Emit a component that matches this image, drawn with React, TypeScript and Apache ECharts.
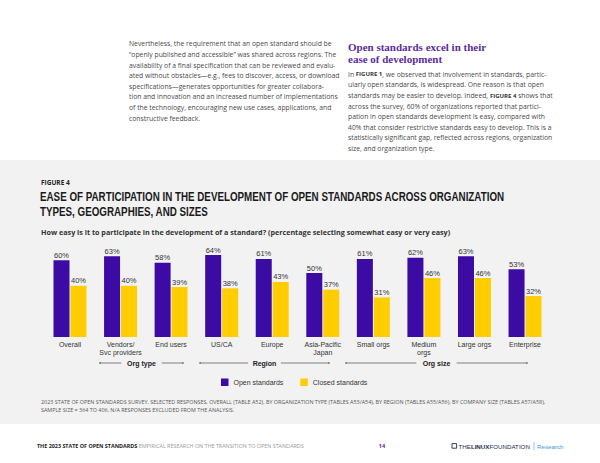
import React, { useEffect, useRef } from "react";
import * as echarts from "echarts";

const categories = [
  "Overall",
  "Vendors/\nSvc providers",
  "End users",
  "US/CA",
  "Europe",
  "Asia-Pacific\nJapan",
  "Small orgs",
  "Medium\norgs",
  "Large orgs",
  "Enterprise",
];
const openValues = [60, 63, 58, 64, 61, 50, 61, 62, 63, 53];
const closedValues = [40, 40, 39, 38, 43, 37, 31, 46, 46, 32];
const seriesNames = ["Open standards", "Closed standards"];
const groupNames = ["Org type", "Region", "Org size"];

const leftParagraph = [
  "Nevertheless, the requirement that an open standard should be",
  "\u201copenly published and accessible\u201d was shared across regions. The",
  "availability of a final specification that can be reviewed and evalu-",
  "ated without obstacles\u2014e.g., fees to discover, access, or download",
  "specifications\u2014generates opportunities for greater collabora-",
  "tion and innovation and an increased number of implementations",
  "of the technology, encouraging new use cases, applications, and",
  "constructive feedback.",
];
const rightParagraph = [
  "In {b|FIGURE 1}, we observed that involvement in standards, partic-",
  "ularly open standards, is widespread. One reason is that open",
  "standards may be easier to develop. Indeed, {b|FIGURE 4} shows that",
  "across the survey, 60% of organizations reported that partici-",
  "pation in open standards development is easy, compared with",
  "40% that consider restrictive standards easy to develop. This is a",
  "statistically significant gap, reflected across regions, organization",
  "size, and organization type.",
];

const PURPLE = "#3b0ba3";
const YELLOW = "#ffcd00";
const BODY = "Open Sans";
const CHARTF = "Liberation Sans";

export default function App() {
  const ref = useRef<HTMLDivElement>(null);
  useEffect(() => {
    if (!ref.current) return;
    const chart = echarts.init(ref.current, undefined, { renderer: "svg" });

    const txt = (
      x: number,
      y: number,
      text: string,
      style: any,
      extra: any = {}
    ) => ({
      type: "text",
      x,
      y,
      z: 10,
      style: {
        text,
        fontFamily: BODY,
        fontSize: 7,
        fill: "#444",
        textAlign: "left",
        textVerticalAlign: "middle",
        ...style,
      },
      ...extra,
    });

    const groupLine = (x1: number, x2: number, label: string, y: number) => {
      const mid = (x1 + x2) / 2;
      const half = label.length * 1.9 + 5;
      return [
        { type: "line", z: 10, shape: { x1, y1: y, x2: mid - half, y2: y }, style: { stroke: "#333", lineWidth: 0.6 } },
        { type: "line", z: 10, shape: { x1: mid + half, y1: y, x2, y2: y }, style: { stroke: "#333", lineWidth: 0.6 } },
        { type: "line", z: 10, shape: { x1, y1: y - 1, x2: x1, y2: y + 1 }, style: { stroke: "#333", lineWidth: 0.8 } },
        { type: "line", z: 10, shape: { x1: x2, y1: y - 1, x2, y2: y + 1 }, style: { stroke: "#333", lineWidth: 0.8 } },
        txt(mid, y, label, { fontFamily: CHARTF, fontWeight: "bold", fontSize: 7, fill: "#222", textAlign: "center" }),
      ];
    };

    const graphic: any[] = [
      { type: "rect", z: -100, shape: { x: 0, y: 160, width: 600, height: 264 }, style: { fill: "#f2f2f2" } },
      // left paragraph
      txt(129, 38.7, leftParagraph.join("\n"), {
        fontSize: 6.8,
        lineHeight: 10.6,
        textVerticalAlign: "top",
        fill: "#4a4a4a",
      }),
      // right heading
      txt(348, 40.3, "Open standards excel in their\nease of development", {
        fontFamily: "Liberation Serif",
        fontWeight: "bold",
        fontSize: 11,
        lineHeight: 12.7,
        textVerticalAlign: "top",
        fill: "#5b2ca3",
      }),
      // right paragraph
      txt(348, 69, rightParagraph.join("\n"), {
        fontSize: 6.8,
        lineHeight: 10.6,
        textVerticalAlign: "top",
        fill: "#4a4a4a",
        rich: {
          b: { fontFamily: BODY, fontSize: 6, fontWeight: "bold", fill: "#333", lineHeight: 10.6 },
        },
      }),
      // figure label & title
      txt(41, 182.3, "FIGURE 4", { fontWeight: "bold", fontSize: 6.5, fill: "#222" }),
      txt(
        40,
        189,
        "EASE OF PARTICIPATION IN THE DEVELOPMENT OF OPEN STANDARDS ACROSS ORGANIZATION\nTYPES, GEOGRAPHIES, AND SIZES",
        {
          fontFamily: CHARTF,
          fontWeight: "bold",
          fontSize: 12.5,
          lineHeight: 15,
          textVerticalAlign: "top",
          fill: "#1a1a1a",
        },
        { scaleX: 0.785 }
      ),
      txt(
        41,
        231.7,
        "How easy is it to participate in the development of a standard? (percentage selecting somewhat easy or very easy)",
        { fontWeight: "bold", fontSize: 7.2, fill: "#333" }
      ),
      ...groupLine(100, 183, groupNames[0], 363),
      ...groupLine(200, 329, groupNames[1], 363),
      ...groupLine(346, 527, groupNames[2], 363),
      // footnote
      txt(
        41,
        397.5,
        "2023 STATE OF OPEN STANDARDS SURVEY, SELECTED RESPONSES, OVERALL (TABLE A52), BY ORGANIZATION TYPE (TABLES A53/A54), BY REGION (TABLES A55/A56), BY COMPANY SIZE (TABLES A57/A58),\nSAMPLE SIZE = 364 TO 406, N/A RESPONSES EXCLUDED FROM THE ANALYSIS.",
        { fontSize: 5.4, lineHeight: 8.3, textVerticalAlign: "top", fill: "#555" }
      ),
      // footer
      txt(37, 446, "{b|THE 2023 STATE OF OPEN STANDARDS} EMPIRICAL RESEARCH ON THE TRANSITION TO OPEN STANDARDS", {
        fontSize: 5.4,
        fill: "#999",
        rich: { b: { fontFamily: BODY, fontSize: 5.4, fontWeight: "bold", fill: "#222" } },
      }),
      txt(382, 446, "14", { fontSize: 5.5, fontWeight: "bold", fill: "#4b2a9a", textAlign: "center" }),
      { type: "rect", z: 10, shape: { x: 452, y: 443.6, width: 4.6, height: 4.6 }, style: { fill: "none", stroke: "#1d2b4f", lineWidth: 0.9 } },
      txt(458.5, 446, "{l|THE}{bb|LINUX}{l|FOUNDATION}", {
        fontSize: 6.2,
        fill: "#1d2b4f",
        rich: {
          l: { fontFamily: CHARTF, fontSize: 6.2, fill: "#1d2b4f" },
          bb: { fontFamily: CHARTF, fontSize: 6.2, fontWeight: "bold", fill: "#1d2b4f" },
        },
      }),
      { type: "line", z: 10, shape: { x1: 534, y1: 442, x2: 534, y2: 450 }, style: { stroke: "#4aa3df", lineWidth: 0.6 } },
      txt(537, 446, "Research", { fontFamily: CHARTF, fontSize: 6.2, fill: "#3d9ad8" }),
    ];

    chart.setOption({
      animation: false,
      backgroundColor: "#ffffff",
      grid: { left: 44.7, right: 49.7, top: 209, bottom: 126, containLabel: false },
      legend: {
        data: seriesNames,
        left: 221,
        top: 378.5,
        padding: 0,
        icon: "rect",
        itemWidth: 7.5,
        itemHeight: 7.5,
        itemGap: 17,
        textStyle: { fontFamily: CHARTF, fontSize: 7, color: "#333" },
      },
      xAxis: {
        type: "category",
        data: categories,
        axisLine: { show: false },
        axisTick: { show: false },
        axisLabel: {
          interval: 0,
          fontFamily: CHARTF,
          fontSize: 7,
          lineHeight: 8,
          color: "#333",
          margin: 3,
        },
      },
      yAxis: {
        type: "value",
        min: 0,
        max: 100,
        show: false,
        splitLine: { show: false },
      },
      series: [
        {
          name: seriesNames[0],
          type: "bar",
          data: openValues,
          barWidth: 16,
          barGap: "6%",
          itemStyle: { color: PURPLE },
          label: {
            show: true,
            position: "top",
            distance: 1,
            formatter: "{c}%",
            fontFamily: CHARTF,
            fontSize: 7.5,
            color: "#333",
          },
        },
        {
          name: seriesNames[1],
          type: "bar",
          data: closedValues,
          barWidth: 16,
          itemStyle: { color: YELLOW },
          label: {
            show: true,
            position: "top",
            distance: 1,
            formatter: "{c}%",
            fontFamily: CHARTF,
            fontSize: 7.5,
            color: "#333",
          },
        },
      ],
      graphic,
    });

    return () => chart.dispose();
  }, []);

  return (
    <div
      ref={ref}
      style={{ position: "fixed", left: 0, top: 0, width: 600, height: 463 }}
    />
  );
}
